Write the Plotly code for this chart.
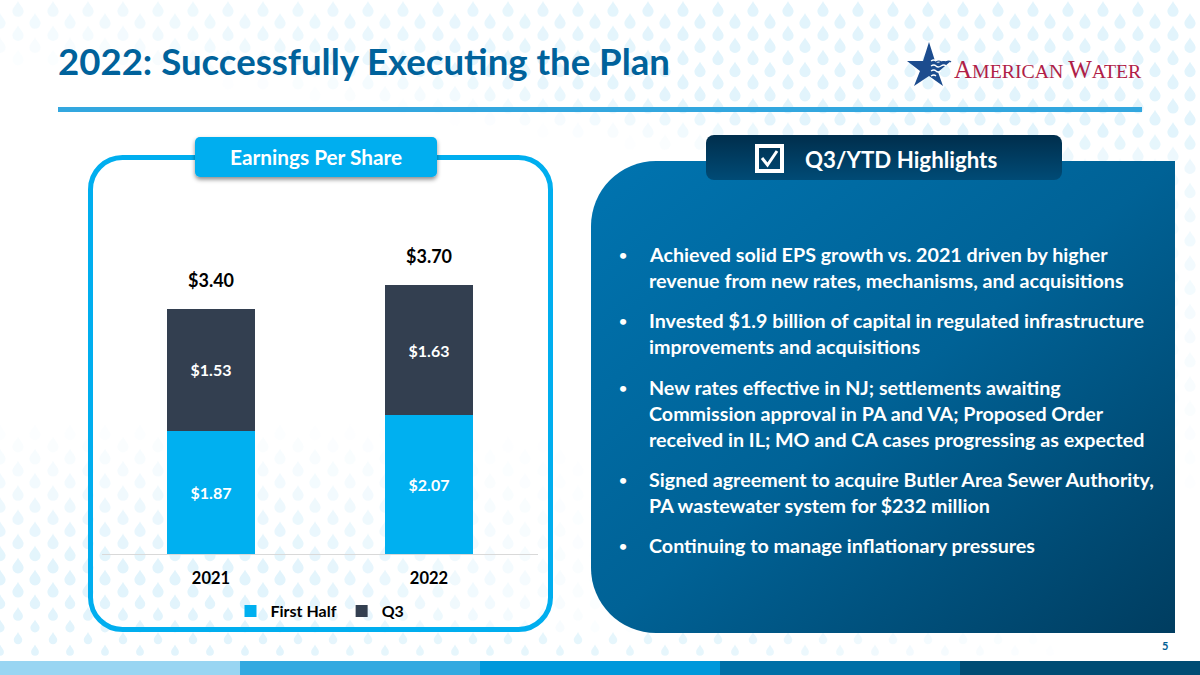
import base64
import plotly.graph_objects as go

# ---------- chart data ----------
categories = ["2021", "2022"]
first_half_heights = [1.71, 1.93]   # bar heights as drawn in the picture
q3_heights = [1.68, 1.79]
first_half_labels = ["$1.87", "$2.07"]
q3_labels = ["$1.53", "$1.63"]
total_labels = ["$3.40", "$3.70"]

title_text = "2022: Successfully Executing the Plan"
highlight_lines = [
    ("Achieved solid EPS growth vs. 2021 driven by higher", 255, True),
    ("revenue from new rates, mechanisms, and acquisitions", 281, False),
    ("Invested $1.9 billion of capital in regulated infrastructure", 321, True),
    ("improvements and acquisitions", 347, False),
    ("New rates effective in NJ; settlements awaiting", 388, True),
    ("Commission approval in PA and VA; Proposed Order", 414, False),
    ("received in IL; MO and CA cases progressing as expected", 440, False),
    ("Signed agreement to acquire Butler Area Sewer Authority,", 480, True),
    ("PA wastewater system for $232 million", 506, False),
    ("Continuing to manage inflationary pressures", 546, True),
]

# ---------- layout constants ----------
W, H = 1200, 675
L, R, T, B = 102, 538, 200, 554
FONT = "Lato"
px = lambda x: (x - L) / (R - L)
py = lambda y: (B - y) / (B - T)
clamp = lambda v: max(0.0, min(1.0, v))


def drop_alpha(x, y):
    top_lim = 70 + 115 * clamp((x - 100) / 800)
    top = clamp((top_lim - y) / 50) * (0.5 + 0.5 * clamp((x - 100) / 600))
    right = clamp((x - 1140) / 50) * clamp((520 - y) / 350) * 0.6
    bl = clamp((y - 420) / 140) * clamp((640 - x) / 350)
    br = clamp((y - 625) / 10) * clamp((1080 - x) / 350) * 0.85
    return max(top, right, bl, br)


drops = []
for j in range(0, 29):
    for row, (x0, y0) in enumerate([(18, 9), (35, 21)]):
        y = y0 + 24.2 * j
        if y > 662:
            continue
        for k in range(-1, 36):
            x = x0 + 35 * k
            a = drop_alpha(x, y)
            if a < 0.04:
                continue
            s = 1.0 if y < 590 else max(0.68, 1 - (y - 590) / 200)
            drops.append(
                f'<use href="#d" transform="translate({x},{y:.1f}) scale({s:.2f})" opacity="{a:.2f}"/>'
            )

seg_colors = ["#99D5F2", "#33A9E0", "#0098DB", "#006FA6", "#004C74"]
footer = "".join(
    f'<rect x="{i * 240}" y="661" width="240" height="14" fill="{c}"/>' for i, c in enumerate(seg_colors)
)

svg = f'''<svg xmlns="http://www.w3.org/2000/svg" width="{W}" height="{H}" viewBox="0 0 {W} {H}">
<defs>
<path id="d" fill="#E2F4FC" d="M0,-8 C1.5,-4 5.6,-1.2 5.6,2.2 A5.6,5.6 0 0 1 -5.6,2.2 C-5.6,-1.2 -1.5,-4 0,-8Z"/>
<linearGradient id="panel" x1="0" y1="0" x2="1" y2="1">
<stop offset="0" stop-color="#0074B0"/><stop offset="0.5" stop-color="#006296"/><stop offset="1" stop-color="#003D60"/>
</linearGradient>
<linearGradient id="hdr" x1="0" y1="0" x2="0" y2="1">
<stop offset="0" stop-color="#002E4C"/><stop offset="1" stop-color="#004B76"/>
</linearGradient>
<filter id="sh" x="-10%" y="-20%" width="120%" height="150%"><feDropShadow dx="0" dy="2.5" stdDeviation="2" flood-color="#000" flood-opacity="0.45"/></filter>
</defs>
<rect width="{W}" height="{H}" fill="#fff"/>
{''.join(drops)}
{footer}
<rect x="58" y="107" width="1084" height="5" fill="#33A7DF"/>
<rect x="90.5" y="157.5" width="460" height="472" rx="32" fill="none" stroke="#00AEEF" stroke-width="5"/>
<rect x="195" y="137" width="242" height="40" rx="5" fill="#00AEEF" filter="url(#sh)"/>
<path d="M656,161 H1175 V633 H656 A65,65 0 0 1 591,568 V226 A65,65 0 0 1 656,161Z" fill="url(#panel)"/>
<rect x="706" y="135" width="356" height="45" rx="8" fill="url(#hdr)"/>
<rect x="757" y="146" width="25" height="25" fill="none" stroke="#fff" stroke-width="4"/>
<path d="M762,158 L767.5,165 L777,151" fill="none" stroke="#fff" stroke-width="3"/>
<path d="M929,42 L935,61 L951,61 L938,72 L943,86 L929,76 L914,86 L920,71 L907,61 L923,61Z" fill="#1C4C8E"/>
<path d="M931,61 q3,-2 5,0 t5,0 t5,0 M931,66 q3,-2 5,0 t5,0 t5,0 M931,71 q3,-2 5,0 t5,0 M931,76 q3,-2 5,0" fill="none" stroke="#fff" stroke-width="1.3"/>
<path d="M936,62 q3,-2 5,0 t5,0 t5,0" fill="none" stroke="#1C4C8E" stroke-width="1.2"/>
</svg>'''
bg_uri = "data:image/svg+xml;base64," + base64.b64encode(svg.encode()).decode()

fig = go.Figure()
for name, vals, labels, color in [
    ("First Half", first_half_heights, first_half_labels, "#00B0F0"),
    ("Q3", q3_heights, q3_labels, "#333F50"),
]:
    fig.add_trace(go.Bar(
        name=name, x=categories, y=vals, text=labels, marker=dict(color=color, line=dict(width=0)),
        textposition="inside", insidetextanchor="middle", textangle=0, constraintext="none",
        textfont=dict(family=FONT, size=16, color="white", weight=700), hoverinfo="name+text",
    ))

ann = []


def label(x, y, text, size, color, anchor="left", family=FONT, weight=700):
    ann.append(dict(xref="paper", yref="paper", x=px(x), y=py(y), text=text, showarrow=False,
                    xanchor=anchor, yanchor="middle", align=anchor,
                    font=dict(family=family, size=size, color=color, weight=weight)))


# stack totals, tied to the bar tops through the y axis (x is the category index)
for i, (a, b, txt) in enumerate(zip(first_half_heights, q3_heights, total_labels)):
    ann.append(dict(xref="x", yref="y", x=i, y=a + b, yshift=29, text=txt, showarrow=False,
                    yanchor="middle", font=dict(family=FONT, size=18, color="black", weight=700)))

label(56, 61, title_text, 36.6, "#00629B")
label(316, 156.5, "Earnings Per Share", 20.8, "white", "center")
label(901, 159.5, "Q3/YTD Highlights", 22.3, "white", "center")
label(1165, 645, "5", 11, "#005F94", "center")
label(952, 69,
      '<span style="font-size:25px">A</span>MERICAN <span style="font-size:25px">W</span>ATER',
      19.8, "#B01E47", "left", "Liberation Serif", 400)
for line, y, bullet in highlight_lines:
    if bullet:
        label(622.5, y - 1, "•", 14, "white", "center")
    label(647, y - 1, line, 19.7, "white")

fig.update_layout(
    width=W, height=H, autosize=False,
    margin=dict(l=L, r=W - R, t=T, b=H - B, pad=0),
    barmode="stack", bargap=0.596,
    paper_bgcolor="white", plot_bgcolor="rgba(0,0,0,0)",
    xaxis=dict(type="category", range=[-0.5, 1.5], showgrid=False, showline=True, linecolor="#D9D9D9", linewidth=1,
               ticks="", ticklabelstandoff=9, tickfont=dict(family=FONT, size=16.5, color="black", weight=700)),
    yaxis=dict(range=[0, (B - T) / 72.2], visible=False, fixedrange=True),
    legend=dict(orientation="h", xanchor="center", x=px(320), yanchor="middle", y=py(611),
                bgcolor="rgba(0,0,0,0)", font=dict(family=FONT, size=16, color="black", weight=700),
                traceorder="normal", itemwidth=30),
    showlegend=True,
    annotations=ann,
    images=[dict(source=bg_uri, xref="paper", yref="paper", x=px(0), y=py(0), sizex=W / (R - L),
                 sizey=H / (B - T), xanchor="left", yanchor="top", sizing="stretch", layer="below")],
)

fig.write_html("out.html", config=dict(displayModeBar=False),
               post_script="document.body.style.margin='0';document.body.style.overflow='hidden';")
